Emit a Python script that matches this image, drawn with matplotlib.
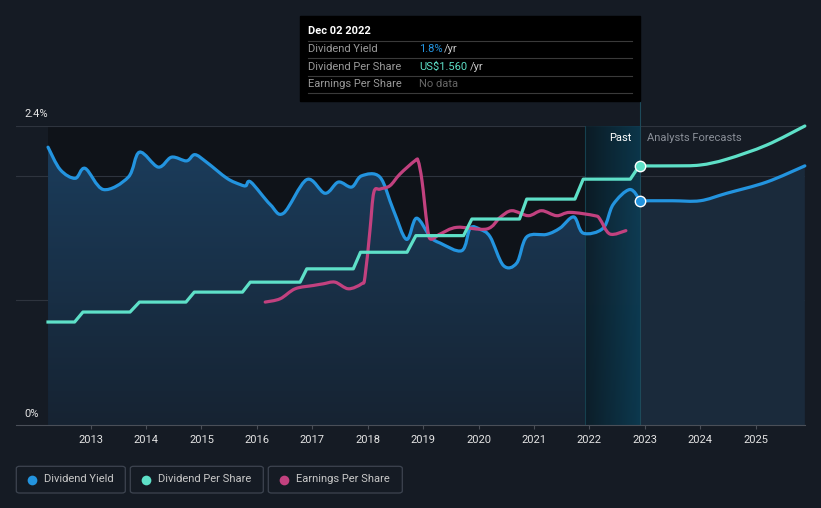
import numpy as np
import matplotlib
matplotlib.use("Agg")
import matplotlib.pyplot as plt
from matplotlib.patches import FancyBboxPatch, Rectangle, PathPatch
from matplotlib.path import Path
from matplotlib.colors import LinearSegmentedColormap

plt.rcParams['font.family'] = ['Roboto', 'DejaVu Sans']

# ---- data ----
# dividend yield, % (past)
yield_t = [2012.23, 2012.45, 2012.72, 2012.90, 2013.23, 2013.68, 2013.88, 2014.22, 2014.46,
           2014.73, 2014.88, 2015.09, 2015.46, 2015.70, 2015.80, 2015.89, 2016.24, 2016.48,
           2016.90, 2017.23, 2017.47, 2017.71, 2017.89, 2018.22, 2018.46, 2018.70, 2018.88,
           2019.13, 2019.31, 2019.70, 2019.85, 2020.03, 2020.21, 2020.45, 2020.69, 2020.87,
           2021.23, 2021.47, 2021.72, 2021.89, 2022.25, 2022.43, 2022.73, 2022.92]
yield_v = [2.23, 2.05, 1.98, 2.06, 1.89, 1.99, 2.19, 2.07, 2.15,
           2.12, 2.17, 2.11, 1.98, 1.93, 1.92, 1.95, 1.77, 1.70,
           1.97, 1.86, 1.95, 1.91, 2.00, 1.99, 1.73, 1.49, 1.66,
           1.51, 1.46, 1.40, 1.58, 1.57, 1.51, 1.28, 1.30, 1.51,
           1.53, 1.58, 1.67, 1.54, 1.58, 1.77, 1.89, 1.80]
# dividend yield forecast, %
yield_fc_t = [2022.92, 2023.50, 2024.00, 2024.48, 2025.20, 2025.89]
yield_fc_v = [1.80, 1.80, 1.80, 1.86, 1.95, 2.08]

# dividend per share, US$ (past), with the date each payment level changes
dps_t = [2012.23, 2012.71, 2012.86, 2013.71, 2013.88, 2014.72, 2014.87, 2015.74, 2015.88,
         2016.78, 2016.90, 2017.74, 2017.87, 2018.71, 2018.87, 2019.73, 2019.88, 2020.74,
         2020.87, 2021.74, 2021.89, 2022.74, 2022.90]
dps_v = [0.62, 0.62, 0.68, 0.68, 0.74, 0.74, 0.80, 0.80, 0.86,
         0.86, 0.94, 0.94, 1.04, 1.04, 1.14, 1.14, 1.24, 1.24,
         1.36, 1.36, 1.48, 1.48, 1.56]
dps_fc_t = [2022.92, 2023.50, 2024.00, 2024.48, 2025.20, 2025.89]
dps_fc_v = [1.56, 1.56, 1.565, 1.60, 1.685, 1.80]

# earnings per share, US$
eps_t = [2016.15, 2016.42, 2016.69, 2017.02, 2017.20, 2017.41, 2017.65, 2017.89, 2017.95,
         2018.04, 2018.11, 2018.22, 2018.40, 2018.58, 2018.85, 2018.91, 2018.98, 2019.07,
         2019.13, 2019.31, 2019.61, 2020.15, 2020.39, 2020.60, 2020.90, 2021.14, 2021.41,
         2021.65, 2022.10, 2022.19, 2022.37, 2022.66]
eps_v = [0.74, 0.76, 0.82, 0.84, 0.85, 0.86, 0.82, 0.85, 0.89,
         1.17, 1.40, 1.42, 1.44, 1.51, 1.59, 1.59, 1.47, 1.21,
         1.12, 1.15, 1.19, 1.18, 1.25, 1.29, 1.26, 1.29, 1.26,
         1.28, 1.26, 1.24, 1.15, 1.17]

years = list(range(2013, 2026))
year_labels = [str(y) for y in years]

# ---- style ----
BG = '#151b24'
PAST_BG = '#0f1319'
C_YIELD = '#2394df'
C_DPS = '#5ee0c8'
C_EPS = '#c2417f'
TXT = '#e4e4e4'
FS = 8
W, H = 821, 508


def fx(x):
    return x / W


def fy(y):
    return 1 - y / H


def smooth_verts(xs, ys):
    # catmull-rom through the points, as cubic bezier segments
    p = np.column_stack([xs, ys]).astype(float)
    n = len(p)
    verts = [p[0]]
    codes = [Path.MOVETO]
    for i in range(n - 1):
        a = p[max(i - 1, 0)]
        b = p[i]
        c = p[i + 1]
        d = p[min(i + 2, n - 1)]
        verts += [b + (c - a) / 6, c - (d - b) / 6, c]
        codes += [Path.CURVE4] * 3
    return verts, codes


def smooth_line(a, xs, ys, **kw):
    v, c = smooth_verts(xs, ys)
    patch = PathPatch(Path(v, c), fill=False, capstyle='round', joinstyle='round', **kw)
    a.add_patch(patch)
    return patch


fig = plt.figure(figsize=(W / 100, H / 100), dpi=100, facecolor=BG)
ax = fig.add_axes([fx(16), fy(425), fx(805) - fx(16), (425 - 126) / H])
ax.set_facecolor(BG)
x0, x1 = 2011.652, 2025.893
now = 2022.92

# past background
ax.axvspan(yield_t[0], now, color=PAST_BG, zorder=0, lw=0)

# gridlines
for g in [1.0, 2.0, 2.4]:
    ax.axhline(g, color='#2e343e', lw=0.8, zorder=1)

# gradient fill under past yield
v, c = smooth_verts(yield_t, yield_v)
v = v + [(yield_t[-1], 0), (yield_t[0], 0), (yield_t[0], yield_v[0])]
c = c + [Path.LINETO, Path.LINETO, Path.CLOSEPOLY]
clip = PathPatch(Path(v, c), transform=ax.transData, fc='none', ec='none')
ax.add_patch(clip)
grad = np.linspace(0, 1, 256).reshape(-1, 1)
cmap = LinearSegmentedColormap.from_list('f', ['#162332', '#1b3e5e'])
im = ax.imshow(grad, extent=[x0, x1, 0, 2.4], origin='lower', aspect='auto',
               cmap=cmap, zorder=2)
im.set_clip_path(clip)

# forecast fill
fv, fc = smooth_verts(yield_fc_t, yield_fc_v)
fv = fv + [(yield_fc_t[-1], 0), (yield_fc_t[0], 0), (yield_fc_t[0], yield_fc_v[0])]
fc = fc + [Path.LINETO, Path.LINETO, Path.CLOSEPOLY]
ax.add_patch(PathPatch(Path(fv, fc), fc='#1a2a3b', ec='none', zorder=2))

# highlighted last year
hcmap = LinearSegmentedColormap.from_list('h', ['#0c1d27', '#0b3d54'])
ax.imshow(np.linspace(0, 1, 256).reshape(1, -1), extent=[now - 1, now, 0, 2.4],
          cmap=hcmap, aspect='auto', zorder=2, alpha=0.85)
ax.axvline(now - 1, color='#15404e', lw=0.8, zorder=2)
ax.set_xlim(x0, x1)
ax.set_ylim(0, 2.4)

smooth_line(ax, yield_t, yield_v, color=C_YIELD, lw=2.3, zorder=5)
smooth_line(ax, yield_fc_t, yield_fc_v, color=C_YIELD, lw=2.3, zorder=5, clip_on=False)

ax2 = ax.twinx()
ax2.set_ylim(0, 1.8)
ax2.plot(dps_t, dps_v, color=C_DPS, lw=2.3, zorder=4, solid_joinstyle='round')
smooth_line(ax2, dps_fc_t, dps_fc_v, color=C_DPS, lw=2.3, zorder=4, clip_on=False)
smooth_line(ax2, eps_t, eps_v, color=C_EPS, lw=2.3, zorder=3)
ax2.axvline(now, color='#1d4a5a', lw=0.8, zorder=2)
ax2.plot([now], [dps_fc_v[0]], 'o', ms=7.5, color=C_DPS, mec='white', mew=1.0, zorder=7,
         clip_on=False)
ax2.plot([now], [yield_fc_v[0] * 1.8 / 2.4], 'o', ms=7.5, color=C_YIELD, mec='white',
         mew=1.0, zorder=7, clip_on=False)
ax2.set_xlim(x0, x1)

for a in (ax, ax2):
    for s in a.spines.values():
        s.set_visible(False)
    a.set_yticks([])
ax2.set_xticks([])
ax.spines['bottom'].set_visible(True)
ax.spines['bottom'].set_color('#4a4f58')
ax.set_xticks(years)
ax.set_xticklabels(year_labels)
ax.tick_params(axis='x', colors='#4a4f58', labelcolor=TXT, labelsize=FS, length=3, pad=4)

# y labels
fig.text(fx(24), fy(114), '2.4%', color=TXT, fontsize=FS, va='center')
fig.text(fx(24), fy(414), '0%', color=TXT, fontsize=FS, va='center')
fig.text(fx(631), fy(138), 'Past', color='white', fontsize=FS, va='center', ha='right')
fig.text(fx(647), fy(138), 'Analysts Forecasts', color='#8a8f98', fontsize=FS, va='center')

# tooltip
fig.add_artist(Rectangle((fx(300), fy(101)), fx(640) - fx(300), (101 - 16) / H,
                         transform=fig.transFigure, color='black', zorder=10))
fig.add_artist(plt.Line2D([fx(640), fx(640)], [fy(101), fy(126)], color='#1d4a5a', lw=0.8,
                          transform=fig.transFigure, zorder=3))
for yl in [41, 58.3, 76, 93.3]:
    fig.add_artist(plt.Line2D([fx(308), fx(632)], [fy(yl), fy(yl)], color='#3a3a3a', lw=0.8,
                              transform=fig.transFigure, zorder=11))
fig.text(fx(308), fy(31), 'Dec 02 2022', color='white', fontsize=FS, fontweight='bold',
         va='center', zorder=12)
rows = [('Dividend Yield', 49.5), ('Dividend Per Share', 66.5), ('Earnings Per Share', 84)]
for lab, yy in rows:
    fig.text(fx(308), fy(yy), lab, color='#9a9a9a', fontsize=FS, va='center', zorder=12)
fig.text(fx(419), fy(49.5), '1.8%', color=C_YIELD, fontsize=FS, va='center', zorder=12)
fig.text(fx(444), fy(49.5), '/yr', color='#c8c8c8', fontsize=FS, va='center', zorder=12)
fig.text(fx(419), fy(66.5), 'US$1.560', color=C_DPS, fontsize=FS, va='center', zorder=12)
fig.text(fx(470), fy(66.5), '/yr', color='#c8c8c8', fontsize=FS, va='center', zorder=12)
fig.text(fx(419), fy(84), 'No data', color='#666666', fontsize=FS, va='center', zorder=12)

# legend
legend = [('Dividend Yield', C_YIELD, 16.3, 125.3),
          ('Dividend Per Share', C_DPS, 130.3, 263.3),
          ('Earnings Per Share', C_EPS, 268.3, 402.3)]
for lab, col, lx, rx in legend:
    fig.add_artist(FancyBboxPatch((fx(lx), fy(493)), fx(rx) - fx(lx), (493 - 466.3) / H,
                                  boxstyle='round,pad=0,rounding_size=0.004',
                                  transform=fig.transFigure, fc='none', ec='#3d4450', lw=0.9))
    fig.add_artist(plt.Line2D([fx(lx + 16)], [fy(479.5)], marker='o', ms=7, color=col,
                              mec='none', transform=fig.transFigure))
    fig.text(fx(lx + 28), fy(479.5), lab, color='#c8c8c8', fontsize=FS, va='center')

fig.savefig('out.png', dpi=100, facecolor=BG)
